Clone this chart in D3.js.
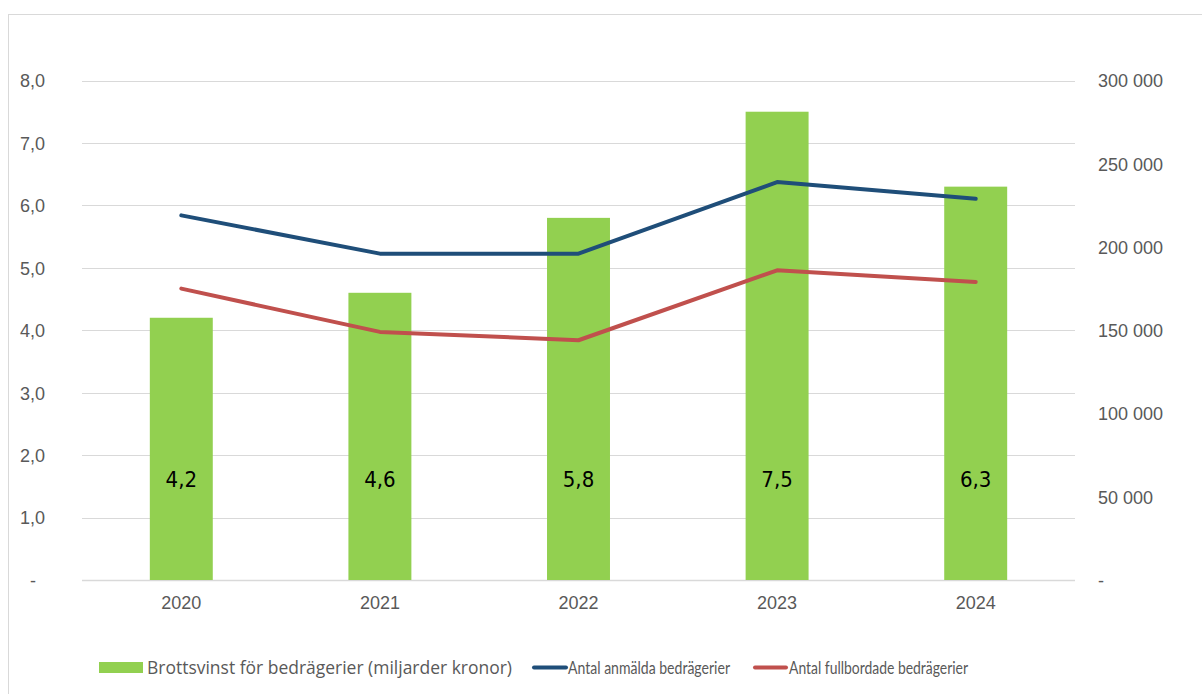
<!DOCTYPE html>
<html lang="sv">
<head>
    <meta charset="UTF-8">
    <title>Brottsvinst för bedrägerier</title>
    <script src="https://d3js.org/d3.v7.min.js"></script>
    <style>
        body { margin: 0; background: #fff; font-family: Lato, "Open Sans", sans-serif; }
        svg { display: block; }
        .tick text { fill: #595959; font-size: 18px; }
        .legend text { fill: #595959; font-size: 18px; }
    </style>
</head>
<body>
    <svg width="1202" height="694"></svg>

    <script>
        // Data
        const years = ["2020", "2021", "2022", "2023", "2024"];
        const brottsvinst = [4.2, 4.6, 5.8, 7.5, 6.3];              // miljarder kronor
        const anmalda = [219000, 196000, 196000, 239000, 229000];
        const fullbordade = [175000, 149000, 144000, 186000, 179000];
        const leftTicks = [0, 1, 2, 3, 4, 5, 6, 7, 8];
        const rightTicks = [0, 50000, 100000, 150000, 200000, 250000, 300000];

        const svg = d3.select("svg");
        const width = 1202, height = 694;
        const plot = { left: 82, right: 1075, top: 80.5, bottom: 580 };

        // chart frame
        svg.append("rect")
            .attr("x", 8.5).attr("y", 14.5)
            .attr("width", width).attr("height", height)
            .attr("fill", "none").attr("stroke", "#d9d9d9");

        const x = d3.scaleBand().domain(years).range([plot.left, plot.right]).paddingInner(0.683).paddingOuter(0.3415);
        const yL = d3.scaleLinear().domain([0, 8]).range([plot.bottom, plot.top]);
        const yR = d3.scaleLinear().domain([0, 300000]).range([plot.bottom, plot.top]);

        const fmtL = d => d === 0 ? "-" : d3.format(".1f")(d).replace(".", ",");
        const fmtR = d => d === 0 ? "-" : d3.format(",")(d).replace(/,/g, " ");

        // gridlines
        svg.append("g")
            .selectAll("line")
            .data(leftTicks)
            .join("line")
            .attr("x1", plot.left).attr("x2", plot.right)
            .attr("y1", d => Math.round(yL(d)) + 0.5).attr("y2", d => Math.round(yL(d)) + 0.5)
            .attr("stroke", "#d9d9d9").attr("stroke-width", d => d === 0 ? 1.5 : 1);

        // left axis
        const leftAxis = svg.append("g")
            .attr("transform", `translate(45,0)`)
            .call(d3.axisLeft(yL).tickValues(leftTicks).tickFormat(fmtL).tickSize(0).tickPadding(0));
        leftAxis.select(".domain").remove();
        leftAxis.selectAll(".tick text").attr("dy", "0.35em")
            .attr("dx", d => d === 0 ? -9 : 0);

        // right axis
        const rightAxis = svg.append("g")
            .attr("transform", `translate(1098,0)`)
            .call(d3.axisRight(yR).tickValues(rightTicks).tickFormat(fmtR).tickSize(0).tickPadding(0));
        rightAxis.select(".domain").remove();
        rightAxis.selectAll(".tick text").attr("dy", "0.35em");

        // x axis labels
        const xAxis = svg.append("g")
            .attr("transform", `translate(0,${plot.bottom + 16})`)
            .call(d3.axisBottom(x).tickSize(0).tickPadding(0));
        xAxis.select(".domain").remove();
        xAxis.selectAll(".tick text").attr("dy", "0.71em");

        // bars
        svg.append("g")
            .selectAll("rect")
            .data(brottsvinst)
            .join("rect")
            .attr("x", (d, i) => x(years[i]))
            .attr("y", d => yL(d))
            .attr("width", x.bandwidth())
            .attr("height", d => yL(0) - yL(d))
            .attr("fill", "#92d050");

        // bar labels
        svg.append("g")
            .selectAll("text")
            .data(brottsvinst)
            .join("text")
            .attr("x", (d, i) => x(years[i]) + x.bandwidth() / 2)
            .attr("y", 479)
            .attr("dy", "0.35em")
            .attr("text-anchor", "middle")
            .attr("font-family", "'Liberation Sans Narrow', 'DejaVu Sans Condensed', sans-serif")
            .attr("font-stretch", "condensed")
            .attr("font-size", 22)
            .attr("fill", "#000")
            .text(d => d3.format(".1f")(d).replace(".", ","));

        // lines
        const line = d3.line()
            .x((d, i) => x(years[i]) + x.bandwidth() / 2)
            .y(d => yR(d));

        [[anmalda, "#1f4e79"], [fullbordade, "#c0504d"]].forEach(([vals, col]) => {
            svg.append("path")
                .datum(vals)
                .attr("d", line)
                .attr("fill", "none")
                .attr("stroke", col)
                .attr("stroke-width", 4)
                .attr("stroke-linecap", "round")
                .attr("stroke-linejoin", "round");
        });

        // legend
        const legend = svg.append("g").attr("class", "legend");
        legend.append("rect").attr("x", 99).attr("y", 662).attr("width", 44).attr("height", 11).attr("fill", "#92d050");
        legend.append("text").attr("x", 147).attr("y", 667.5).attr("dy", "0.35em")
            .attr("font-family", "'Open Sans', sans-serif")
            .attr("textLength", 365).attr("lengthAdjust", "spacingAndGlyphs")
            .text("Brottsvinst för bedrägerier (miljarder kronor)");
        legend.append("line").attr("x1", 534).attr("x2", 566).attr("y1", 667.5).attr("y2", 667.5)
            .attr("stroke", "#1f4e79").attr("stroke-width", 4).attr("stroke-linecap", "round");
        legend.append("text").attr("x", 568).attr("y", 667.5).attr("dy", "0.35em")
            .attr("textLength", 162).attr("lengthAdjust", "spacingAndGlyphs")
            .text("Antal anmälda bedrägerier");
        legend.append("line").attr("x1", 755).attr("x2", 786).attr("y1", 667.5).attr("y2", 667.5)
            .attr("stroke", "#c0504d").attr("stroke-width", 4).attr("stroke-linecap", "round");
        legend.append("text").attr("x", 789).attr("y", 667.5).attr("dy", "0.35em")
            .attr("textLength", 179).attr("lengthAdjust", "spacingAndGlyphs")
            .text("Antal fullbordade bedrägerier");
    </script>
</body>
</html>
